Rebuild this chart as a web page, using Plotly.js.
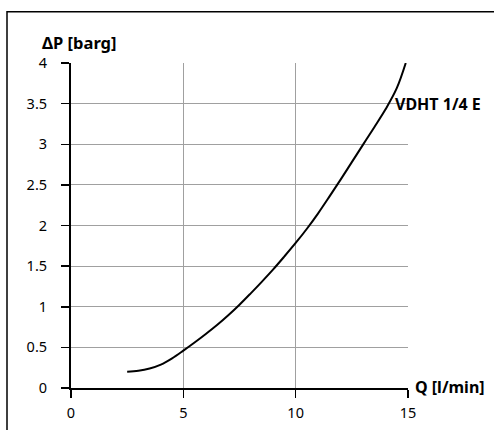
<!DOCTYPE html>
<html>
<head>
<meta charset="utf-8">
<script src="https://cdn.plot.ly/plotly-3.0.1.min.js"></script>
<style>html,body{margin:0;padding:0;background:#fff;}#chart{width:494px;height:430px;}</style>
</head>
<body>
<div id="chart"></div>
<script>
var flowQ = [2.5, 3, 3.5, 4, 4.5, 5, 5.5, 6, 6.5, 7, 7.5, 8, 8.5, 9, 9.5, 10, 10.5, 11, 11.5, 12, 12.5, 13, 13.5, 14, 14.5, 14.9];
var deltaP = [0.2, 0.212, 0.24, 0.288, 0.365, 0.46, 0.56, 0.665, 0.775, 0.895, 1.025, 1.165, 1.31, 1.46, 1.62, 1.785, 1.96, 2.15, 2.355, 2.565, 2.78, 2.995, 3.21, 3.43, 3.69, 4.0];
var seriesName = 'VDHT 1/4 E';
var xTicks = [0, 5, 10, 15];
var yTicks = [0, 0.5, 1, 1.5, 2, 2.5, 3, 3.5, 4];
var yTickText = ['0', '0.5', '1', '1.5', '2', '2.5', '3', '3.5', '4'];
var xTitle = 'Q [l/min]';
var yTitle = 'ΔP [barg]';

var FONT = 'Noto Sans, sans-serif';
var trace = {
  x: flowQ, y: deltaP, type: 'scatter', mode: 'lines',
  line: {color: '#000', width: 2, shape: 'spline', smoothing: 1},
  hoverinfo: 'skip', showlegend: false
};
var layout = {
  width: 494, height: 430,
  margin: {l: 71, r: 86, t: 62.5, b: 41.5},
  paper_bgcolor: '#fff', plot_bgcolor: '#fff',
  font: {family: FONT, size: 14.5, color: '#000'},
  xaxis: {
    range: [0, 15], tickvals: xTicks, ticktext: xTicks.map(String),
    showgrid: true, gridcolor: '#a0a0a0', gridwidth: 1,
    zeroline: false, showline: true, linecolor: '#000', linewidth: 2,
    ticks: 'outside', ticklen: 8, tickwidth: 1.5, tickcolor: '#000',
    ticklabelstandoff: 3, fixedrange: true
  },
  yaxis: {
    range: [0, 4], tickvals: yTicks, ticktext: yTickText,
    showgrid: true, gridcolor: '#a0a0a0', gridwidth: 1,
    zeroline: false, showline: true, linecolor: '#000', linewidth: 2,
    ticks: 'outside', ticklen: 8, tickwidth: 1.5, tickcolor: '#000',
    ticklabelstandoff: 11, fixedrange: true
  },
  shapes: [
    {type: 'rect', xref: 'paper', yref: 'paper', x0: (7 - 71) / 337, x1: (520 - 71) / 337,
     y0: (388.5 - 460) / 326, y1: (388.5 - 11) / 326, line: {color: '#000', width: 1.5}, layer: 'below'}
  ],
  annotations: [
    {text: '<b>' + yTitle + '</b>', xref: 'paper', yref: 'paper', x: (40 - 71) / 337, y: (388.5 - 42) / 326,
     xanchor: 'left', yanchor: 'middle', showarrow: false, font: {family: FONT, size: 16.5, color: '#000'}},
    {text: '<b>' + xTitle + '</b>', xref: 'paper', yref: 'paper', x: (413 - 71) / 337, y: (388.5 - 387) / 326,
     xanchor: 'left', yanchor: 'middle', showarrow: false, font: {family: FONT, size: 16, color: '#000'}},
    {text: '<b>' + seriesName + '</b>', xref: 'x', yref: 'y', x: 14.5, y: 3.5,
     xanchor: 'left', yanchor: 'middle', showarrow: false, xshift: -4, font: {family: FONT, size: 16, color: '#000'}}
  ]
};
Plotly.newPlot('chart', [trace], layout, {displayModeBar: false, staticPlot: true});
</script>
</body>
</html>
